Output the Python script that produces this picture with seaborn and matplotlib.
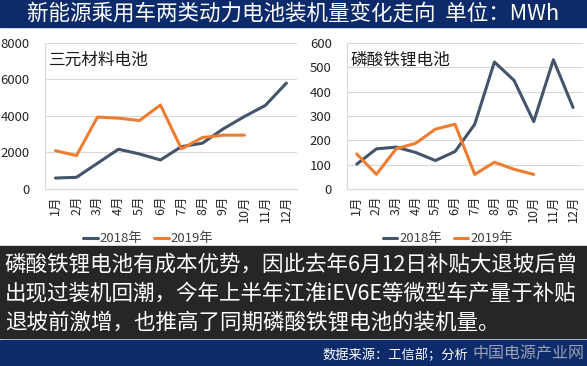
import matplotlib
matplotlib.use("Agg")
import matplotlib.pyplot as plt
import pandas as pd
import seaborn as sns
from matplotlib.patches import Rectangle

months = ["1月", "2月", "3月", "4月", "5月", "6月", "7月", "8月", "9月", "10月", "11月", "12月"]
years = ["2018年", "2019年"]

ncm_2018 = [600, 640, 1410, 2180, 1920, 1590, 2320, 2510, 3300, 3970, 4580, 5800]
ncm_2019 = [2100, 1830, 3940, 3880, 3750, 4600, 2200, 2820, 2950, 2950]

lfp_2018 = [102, 165, 172, 150, 117, 154, 266, 522, 446, 277, 531, 335]
lfp_2019 = [144, 60, 165, 188, 246, 266, 60, 110, 81, 60]

title = "新能源乘用车两类动力电池装机量变化走向  单位：MWh"
panel_titles = ["三元材料电池", "磷酸铁锂电池"]
note_lines = [
    "磷酸铁锂电池有成本优势，因此去年6月12日补贴大退坡后曾",
    "出现过装机回潮，今年上半年江淮iEV6E等微型车产量于补贴",
    "退坡前激增，也推高了同期磷酸铁锂电池的装机量。",
]
source = "数据来源：工信部；分析"
watermark = "中国电源产业网"

sns.set_theme(style="white")
plt.rcParams["font.family"] = ["Noto Sans CJK SC", "DejaVu Sans"]

BLUE = "#0d2a6b"
palette = {"2018年": "#44546a", "2019年": "#ed7d31"}


def to_frame(s2018, s2019):
    rows = [(months[i], "2018年", v) for i, v in enumerate(s2018)]
    rows += [(months[i], "2019年", v) for i, v in enumerate(s2019)]
    return pd.DataFrame(rows, columns=["month", "year", "value"])


fig = plt.figure(figsize=(5.87, 3.66), dpi=100)
fig.patch.set_facecolor("white")

# banners and note box
fig.patches.append(Rectangle((0, 0.926), 1, 0.074, transform=fig.transFigure, color=BLUE, zorder=0))
fig.patches.append(Rectangle((0, 0.0765), 1, 0.252, transform=fig.transFigure, color="#262626", zorder=0))
fig.patches.append(Rectangle((0, 0), 1, 0.071, transform=fig.transFigure, color=BLUE, zorder=0))

fig.text(0.50, 0.963, title, color="white", fontsize=15.5, ha="center", va="center")

panels = [
    (to_frame(ncm_2018, ncm_2019), [0.0767, 0.4836, 0.429, 0.399], 8000, 2000, 0.253),
    (to_frame(lfp_2018, lfp_2019), [0.591, 0.4836, 0.402, 0.399], 600, 100, 0.763),
]

for (df, rect, ymax, step, leg_x), ptitle in zip(panels, panel_titles):
    ax = fig.add_axes(rect)
    sns.lineplot(data=df, x="month", y="value", hue="year", palette=palette,
                 sort=False, linewidth=2.2, ax=ax)
    ax.set_xlim(-0.5, 11.5)
    ax.set_ylim(0, ymax)
    ax.set_yticks(range(0, ymax + 1, step))
    ax.set_xticks(range(len(months)))
    ax.set_xticklabels(months, rotation=90)
    ax.set_xlabel("")
    ax.set_ylabel("")
    ax.grid(axis="y", color="#d9d9d9", linewidth=0.8)
    ax.set_axisbelow(True)
    for side in ["top", "right"]:
        ax.spines[side].set_visible(False)
    for side in ["left", "bottom"]:
        ax.spines[side].set_color("#d9d9d9")
        ax.spines[side].set_linewidth(0.8)
    ax.tick_params(axis="y", labelsize=9.5, pad=11, length=0, colors="#262626")
    ax.tick_params(axis="x", labelsize=9, pad=5, length=0, colors="#262626")
    ax.text(0.015, 0.88, ptitle, transform=ax.transAxes, fontsize=12, ha="left", va="center", color="#1a1a1a")
    ax.get_legend().remove()
    handles, labels = ax.get_legend_handles_labels()
    fig.legend(handles, labels, loc="center", bbox_to_anchor=(leg_x, 0.347), ncol=2, frameon=False,
               fontsize=9.5, handlelength=1.1, handletextpad=0.15, columnspacing=0.9,
               labelcolor="#404040")

for i, line in enumerate(note_lines):
    fig.text(0.008, 0.276 - i * 0.079, line, color="white", fontsize=15.5, ha="left", va="center")

fig.text(0.55, 0.03, source, color="white", fontsize=9.5, ha="left", va="center")
fig.text(0.805, 0.032, watermark, color="#bfbfbf", alpha=0.8, fontsize=11.5, ha="left", va="center")

fig.savefig("out.png", dpi=100)
